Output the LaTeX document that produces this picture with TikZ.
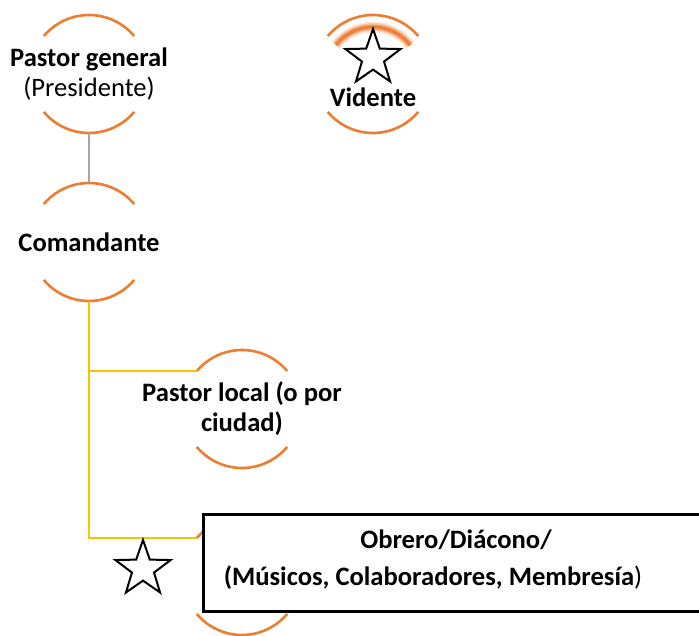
\documentclass[tikz,border=0pt]{standalone}
\usepackage{fontspec}
\setmainfont{Carlito}
\usetikzlibrary{shapes.geometric}
\definecolor{ogink}{HTML}{000000}
\definecolor{ogorange}{HTML}{ED7D31}
\definecolor{ogyellow}{HTML}{FFC000}
\definecolor{oggray}{HTML}{A5A5A5}
\tikzset{
  og text/.style={font=\fontsize{26.6}{30}\selectfont\bfseries, text=ogink, align=center, inner sep=0pt},
  og ring/.style={circle, minimum size=118pt, inner sep=0pt, outer sep=0pt},
  og arc/.style={draw=ogorange, line width=2.6pt},
  og star/.style={star, star points=5, star point ratio=2.5, minimum size=58pt,
    inner sep=0pt, draw=ogink, line width=2pt, fill=white},
  og link/.style={draw=oggray, line width=2.2pt},
  og branch/.style={draw=ogyellow, line width=2.2pt},
  og box/.style={draw=ogink, line width=2.7pt, fill=white, anchor=north west,
    minimum width=540pt, minimum height=97pt}
}

\begin{document}
\begin{tikzpicture}[x=1pt, y=-1pt]
  \useasboundingbox (0,0) rectangle (699,635);
  \clip (0,0) rectangle (699,635);
  % rings
  \node[og ring] (pg) at (89,74) {};
  \node[og ring] (vid) at (373,74) {};
  \node[og ring] (com) at (89,242) {};
  \node[og ring] (pl) at (242,409) {};
  \node[og ring] (ob) at (242,576) {};
  \foreach \n in {pg,vid,com,pl,ob} {
    \draw[og arc] (\n.40) arc[start angle=40, end angle=140, radius=59pt];
    \draw[og arc] (\n.220) arc[start angle=220, end angle=320, radius=59pt];
  }
  % glow over the seer
  \node[circle, minimum size=94pt, inner sep=0pt, outer sep=0pt] (vidglow) at (vid) {};
  \foreach \w/\o in {11/0.15,8/0.3,5/0.6,2.5/0.9} {
    \draw[draw=ogorange, line width=\w pt, opacity=\o] (vidglow.38) arc[start angle=38, end angle=142, radius=47pt];
  }
  % connectors
  \draw[og link] (pg.south) -- (com.north);
  \draw[og branch] (com.south) |- (pl.140);
  \draw[og branch] (com.south) |- (ob.140);
  % workers box
  \node[og box] (obbox) at (202,513) {};
  % texts
  \node[og text] (pgt) at (pg) {Pastor general\\{\mdseries(Presidente)}};
  \node[og star] (vidstar) at (373,58) {};
  \node[og text] (vidt) at (373,97) {Vidente};
  \node[og text] (comt) at (com) {Comandante};
  \node[og text] (plt) at (pl) {Pastor local (o por\\ciudad)};
  \node[og text, anchor=base] (obt1) at (456,548) {Obrero/Diácono/};
  \node[og text, anchor=base] (obt2) at (433,585) {(Músicos, Colaboradores, Membresía{\mdseries)}};
  \node[og star] (obstar) at (143,569) {};
\end{tikzpicture}
\end{document}
